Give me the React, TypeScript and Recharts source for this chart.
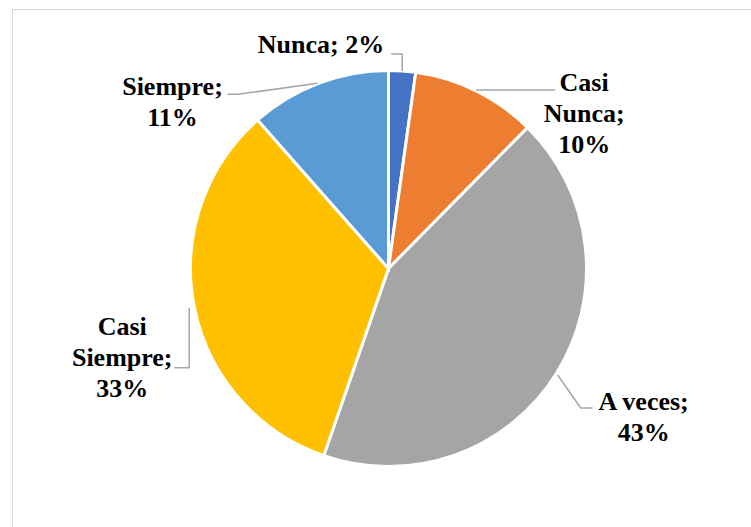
import { PieChart, Pie, Cell } from "recharts";

const categories = ["Nunca", "Casi Nunca", "A veces", "Casi Siempre", "Siempre"];
const values = [2.2, 10.2, 42.9, 33.2, 11.5];
const pctLabels = ["2%", "10%", "43%", "33%", "11%"];
const colors = ["#4472C4", "#ED7D31", "#A5A5A5", "#FFC000", "#5B9BD5"];

const data = categories.map((name, i) => ({ name, value: values[i] }));

// Lage der Beschriftungen relativ zum Ankerpunkt auf dem Kreisrand
type Wrap = "none" | "pct" | "all";
const labelLayout: {
  line: [number, number][];
  dx: number;
  dy: number;
  anchor: "start" | "middle" | "end";
  wrap: Wrap;
}[] = [
  { line: [[0, 0], [0, -17], [-11, -17]], dx: -18, dy: -18, anchor: "end", wrap: "none" },
  { line: [[0, -1], [79, -1]], dx: 108, dy: 0, anchor: "middle", wrap: "all" },
  { line: [[1, 2], [24, 35], [36, 35]], dx: 87, dy: 37, anchor: "middle", wrap: "pct" },
  { line: [[-5, 1], [-5, 61], [-20, 61]], dx: -72, dy: 28, anchor: "middle", wrap: "all" },
  { line: [[-1, 0], [-80, 11], [-91, 11]], dx: -146, dy: 12, anchor: "middle", wrap: "pct" },
];

const RAD = Math.PI / 180;
const LINE_H = 31;
const FONT = "Liberation Serif, Times New Roman, serif";

function buildLines(name: string, pct: string, wrap: Wrap) {
  if (wrap === "none") return [`${name}; ${pct}`];
  if (wrap === "pct") return [`${name};`, pct];
  const words = name.split(" ");
  words[words.length - 1] += ";";
  return [...words, pct];
}

function renderLabel(props: any) {
  const { cx, cy, midAngle, outerRadius, index } = props;
  const layout = labelLayout[index];
  const ax = cx + outerRadius * Math.cos(-midAngle * RAD);
  const ay = cy + outerRadius * Math.sin(-midAngle * RAD);
  const points = layout.line.map(([x, y]) => `${ax + x},${ay + y}`).join(" ");
  const lines = buildLines(categories[index], pctLabels[index], layout.wrap);
  return (
    <g key={`lbl-${index}`}>
      <polyline points={points} fill="none" stroke="#A6A6A6" strokeWidth={1.5} />
      <text
        x={ax + layout.dx}
        y={ay + layout.dy}
        textAnchor={layout.anchor}
        fill="#000"
        style={{ fontFamily: FONT, fontWeight: 700, fontSize: 26 }}
      >
        {lines.map((t, i) => (
          <tspan key={i} x={ax + layout.dx} dy={i === 0 ? 0 : LINE_H}>
            {t}
          </tspan>
        ))}
      </text>
    </g>
  );
}

export default function App() {
  return (
    <div
      style={{
        position: "absolute",
        left: 0,
        top: 0,
        width: 751,
        height: 527,
        overflow: "hidden",
        background: "#fff",
      }}
    >
      {/* Rahmen des Diagrammbereichs */}
      <div
        style={{
          position: "absolute",
          left: 12,
          top: 9,
          width: 800,
          height: 600,
          border: "1px solid #D9D9D9",
        }}
      />
      <div style={{ position: "absolute", left: 0, top: 0 }}>
        <PieChart width={751} height={527} margin={{ top: 0, right: 0, bottom: 0, left: 0 }}>
          <Pie
            data={data}
            dataKey="value"
            nameKey="name"
            cx={388.5}
            cy={268.5}
            outerRadius={198}
            startAngle={90}
            endAngle={-270}
            stroke="#fff"
            strokeWidth={3}
            label={renderLabel}
            labelLine={false}
            isAnimationActive={false}
          >
            {data.map((d, i) => (
              <Cell key={d.name} fill={colors[i]} />
            ))}
          </Pie>
        </PieChart>
      </div>
    </div>
  );
}
